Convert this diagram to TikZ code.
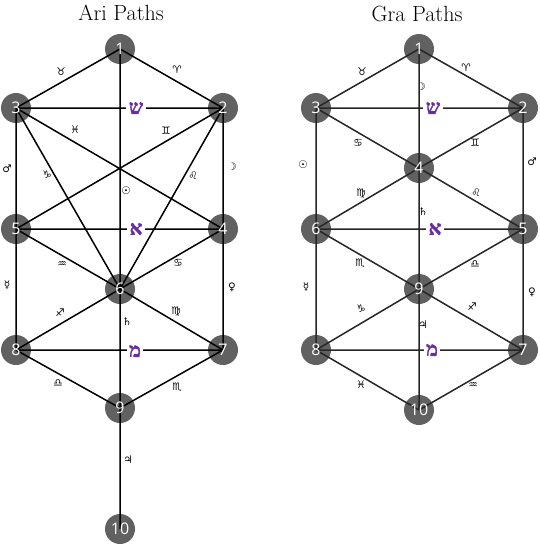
\documentclass[tikz,border=0pt]{standalone}
\usepackage{fontspec}
\newfontfamily\symfont{DejaVu Sans}
\newfontfamily\hebfont[Script=Hebrew,FakeBold=1.5]{Liberation Serif}
\newfontfamily\numfont{Open Sans}
\definecolor{sefgray}{RGB}{97,97,97}
\definecolor{letterpurple}{RGB}{106,46,156}
\pgfdeclarelayer{discs}
\pgfdeclarelayer{paths}
\pgfsetlayers{discs,paths,main}
\tikzset{
  sef node/.style={circle,minimum size=30pt,inner sep=0pt,text=white,
    font=\numfont\fontsize{16}{16}\selectfont},
  sef disc/.style={fill=sefgray},
  ari line/.style={black,line width=1.5pt},
  gra line/.style={black!85,line width=1.5pt},
  zod/.style={font=\symfont\fontsize{10.5}{10.5}\selectfont,inner sep=0pt},
  heb letter/.style={fill=white,inner sep=2.5pt,text=letterpurple,
    font=\hebfont\bfseries\fontsize{20}{20}\selectfont},
  tree title/.style={font=\fontsize{22}{22}\selectfont}
}
\newcommand{\sefat}[3]{%
  \node[sef node] (#1) at (#2) {#3};
  \begin{pgfonlayer}{discs}
    \fill[sef disc] (#1.center) circle (15pt);
  \end{pgfonlayer}%
}

\begin{document}
\begin{tikzpicture}[x=1pt,y=-1pt]
  \useasboundingbox (0,0) rectangle (540,544);
  % Ari
  \node[tree title] (arititle) at (121,13) {Ari Paths};
  \sefat{a1}{120,49}{1}
  \sefat{a2}{223,108}{2}
  \sefat{a3}{16,108}{3}
  \sefat{a4}{223,229}{4}
  \sefat{a5}{16,229}{5}
  \sefat{a6}{120,289}{6}
  \sefat{a7}{223,350}{7}
  \sefat{a8}{16,350}{8}
  \sefat{a9}{120,408}{9}
  \sefat{a10}{120,529}{10}
  \begin{pgfonlayer}{paths}
    \draw[ari line] (a1.center)--(a3.center) (a1.center)--(a2.center)
      (a1.center)--(a6.center) (a3.center)--(a2.center)
      (a3.center)--(a5.center) (a3.center)--(a6.center)
      (a3.center)--(a4.center) (a2.center)--(a4.center)
      (a2.center)--(a5.center) (a2.center)--(a6.center)
      (a5.center)--(a4.center) (a5.center)--(a6.center)
      (a5.center)--(a8.center) (a4.center)--(a6.center)
      (a4.center)--(a7.center) (a6.center)--(a9.center)
      (a6.center)--(a8.center) (a6.center)--(a7.center)
      (a8.center)--(a7.center) (a8.center)--(a9.center)
      (a7.center)--(a9.center) (a9.center)--(a10.center);
  \end{pgfonlayer}
  \node[heb letter] (ashin) at (136,108) {ש};
  \node[heb letter] (aaleph) at (136,229) {א};
  \node[heb letter] (amem) at (135,351) {מ};
  \node[zod] (ataurus) at (61,72) {♉};
  \node[zod] (aaries) at (177,70) {♈};
  \node[zod] (apisces) at (75,130) {♓};
  \node[zod] (agemini) at (166,131) {♊};
  \node[zod] (amars) at (7,169) {♂};
  \node[zod] (amoon) at (232,167) {☽};
  \node[zod] (acapri) at (47,175) {♑};
  \node[zod] (aleo) at (193,176) {♌};
  \node[zod] (asun) at (126,191) {☉};
  \node[zod] (aaquar) at (62,264) {♒};
  \node[zod] (acancer) at (178,263) {♋};
  \node[zod] (amerc) at (7,285) {☿};
  \node[zod] (avenus) at (232,287) {♀};
  \node[zod] (asagit) at (60,313) {♐};
  \node[zod] (avirgo) at (176,312) {♍};
  \node[zod] (asatur) at (127,322) {♄};
  \node[zod] (alibra) at (58,383) {♎};
  \node[zod] (ascorp) at (177,387) {♏};
  \node[zod] (ajupit) at (128,460) {♃};

  % Gra
  \node[tree title] (gratitle) at (417,14) {Gra Paths};
  \sefat{g1}{419,49}{1}
  \sefat{g2}{523,108}{2}
  \sefat{g3}{316,108}{3}
  \sefat{g4}{419,168}{4}
  \sefat{g5}{523,229}{5}
  \sefat{g6}{316,229}{6}
  \sefat{g9}{419,289}{9}
  \sefat{g7}{523,350}{7}
  \sefat{g8}{316,350}{8}
  \sefat{g10}{419,410}{10}
  \begin{pgfonlayer}{paths}
    \draw[gra line] (g1.center)--(g3.center) (g1.center)--(g2.center)
      (g1.center)--(g4.center) (g3.center)--(g2.center)
      (g3.center)--(g4.center) (g2.center)--(g4.center)
      (g3.center)--(g6.center) (g2.center)--(g5.center)
      (g4.center)--(g6.center) (g4.center)--(g5.center)
      (g4.center)--(g9.center) (g6.center)--(g5.center)
      (g6.center)--(g9.center) (g5.center)--(g9.center)
      (g6.center)--(g8.center) (g5.center)--(g7.center)
      (g9.center)--(g8.center) (g9.center)--(g7.center)
      (g9.center)--(g10.center) (g8.center)--(g7.center)
      (g8.center)--(g10.center) (g7.center)--(g10.center);
  \end{pgfonlayer}
  \node[heb letter] (gshin) at (433,108) {ש};
  \node[heb letter] (galeph) at (435,229) {א};
  \node[heb letter] (gmem) at (432,350) {מ};
  \node[zod] (gtaurus) at (362,72) {♉};
  \node[zod] (garies) at (466,68) {♈};
  \node[zod] (gmoon) at (421,87) {☽};
  \node[zod] (gcancer) at (358,143) {♋};
  \node[zod] (ggemini) at (475,143) {♊};
  \node[zod] (gsun) at (303,165) {☉};
  \node[zod] (gmars) at (532,162) {♂};
  \node[zod] (gvirgo) at (361,194) {♍};
  \node[zod] (gleo) at (476,193) {♌};
  \node[zod] (gsatur) at (423,212) {♄};
  \node[zod] (gscorp) at (360,263) {♏};
  \node[zod] (glibra) at (475,264) {♎};
  \node[zod] (gmerc) at (306,287) {☿};
  \node[zod] (gvenus) at (532,292) {♀};
  \node[zod] (gcapri) at (361,309) {♑};
  \node[zod] (gsagit) at (472,307) {♐};
  \node[zod] (gjupit) at (423,325) {♃};
  \node[zod] (gpisces) at (361,385) {♓};
  \node[zod] (gaquar) at (473,385) {♒};
\end{tikzpicture}
\end{document}
